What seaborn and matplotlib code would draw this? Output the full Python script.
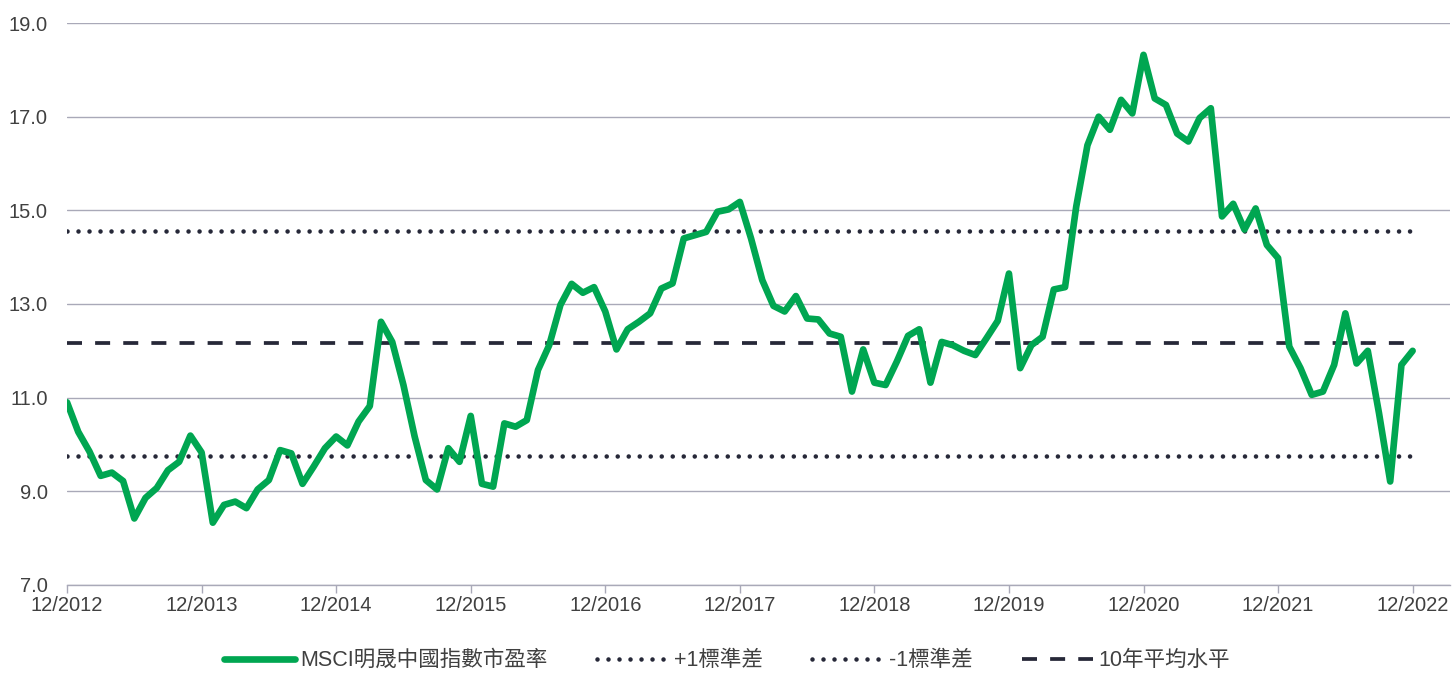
import numpy as np
import pandas as pd
import matplotlib
matplotlib.use("Agg")
import matplotlib.pyplot as plt
import seaborn as sns

sns.set_theme(style="white")
plt.rcParams["font.family"] = ["Liberation Sans", "Noto Sans CJK TC", "DejaVu Sans"]

# monthly P/E of MSCI China, 12/2012 .. 12/2022
pe = [
    10.90, 10.27, 9.85, 9.33, 9.40, 9.22, 8.42, 8.86, 9.07, 9.45, 9.63, 10.19,
    9.83, 8.33, 8.71, 8.78, 8.64, 9.04, 9.24, 9.88, 9.81, 9.16, 9.53, 9.92,
    10.17, 9.98, 10.49, 10.82, 12.62, 12.19, 11.27, 10.17, 9.24, 9.04, 9.92, 9.63,
    10.61, 9.16, 9.10, 10.45, 10.38, 10.52, 11.59, 12.12, 12.98, 13.43, 13.24, 13.36,
    12.84, 12.03, 12.46, 12.62, 12.80, 13.33, 13.44, 14.40, 14.47, 14.54, 14.97, 15.02,
    15.18, 14.40, 13.51, 12.96, 12.84, 13.17, 12.69, 12.67, 12.37, 12.30, 11.13, 12.03,
    11.32, 11.27, 11.77, 12.32, 12.46, 11.32, 12.19, 12.12, 12.00, 11.91, 12.27, 12.64,
    13.65, 11.63, 12.12, 12.30, 13.31, 13.36, 15.08, 16.39, 17.00, 16.72, 17.36, 17.07,
    18.32, 17.39, 17.25, 16.64, 16.47, 16.97, 17.18, 14.87, 15.14, 14.59, 15.04, 14.26,
    13.98, 12.09, 11.63, 11.06, 11.13, 11.70, 12.80, 11.73, 12.00, 10.67, 9.21, 11.70,
    12.00,
]
plus_1sd = 14.56
minus_1sd = 9.75
mean_10y = 12.16

tick_labels = ["12/2012", "12/2013", "12/2014", "12/2015", "12/2016", "12/2017",
               "12/2018", "12/2019", "12/2020", "12/2021", "12/2022"]
y_ticks = [7, 9, 11, 13, 15, 17, 19]

labels = ["MSCI明晟中國指數市盈率", "+1標準差", "-1標準差", "10年平均水平"]

GREEN = "#00A651"
NAVY = "#262838"
GRID = "#A9A9B8"
TEXT = "#404040"

df = pd.DataFrame({"month": np.arange(len(pe)), "pe": pe})
last = df["month"].max()

fig = plt.figure(figsize=(14.54, 6.73), dpi=100)
ax = fig.add_axes([0.0461, 0.1308, 0.9509, 0.835])

for val, lab in [(plus_1sd, labels[1]), (minus_1sd, labels[2])]:
    sns.lineplot(x=[0, last], y=[val, val], ax=ax, color=NAVY, lw=3.3,
                 linestyle=(0, (0.001, 2.4)), dash_capstyle="round", label=lab)

sns.lineplot(x=[0, last], y=[mean_10y, mean_10y], ax=ax, color=NAVY, lw=2.7,
             linestyle=(0, (4.0, 3.5)), label=labels[3])

sns.lineplot(data=df, x="month", y="pe", ax=ax, color=GREEN, lw=4.8,
             label=labels[0], zorder=5)

ax.set_xlim(0, 123.3)
ax.set_ylim(7, 19)
ax.set_yticks(y_ticks)
ax.set_yticklabels([f"{v:.1f}" for v in y_ticks])
ax.set_xticks(np.arange(0, last + 1, 12))
ax.set_xticklabels(tick_labels)
ax.set_xlabel("")
ax.set_ylabel("")

ax.yaxis.grid(True, color=GRID, lw=1.0)
ax.set_axisbelow(True)
sns.despine(ax=ax, left=True)
ax.spines["bottom"].set_color(GRID)
ax.spines["bottom"].set_linewidth(1.0)

ax.tick_params(axis="y", length=0, pad=14, labelsize=14.5, labelcolor=TEXT)
ax.tick_params(axis="x", direction="out", length=6, width=1, color=GRID,
               pad=2, labelsize=14.5, labelcolor=TEXT, bottom=True)

handles, labs = ax.get_legend_handles_labels()
order = [labs.index(l) for l in labels]
ax.legend_.remove()
fig.legend([handles[i] for i in order], [labs[i] for i in order],
           loc="lower center", bbox_to_anchor=(0.5, -0.026), ncol=4,
           frameon=False, fontsize=15.5, handlelength=3.3, handletextpad=0.25,
           columnspacing=2.3, labelcolor=TEXT)

fig.savefig("out.png", dpi=100)
